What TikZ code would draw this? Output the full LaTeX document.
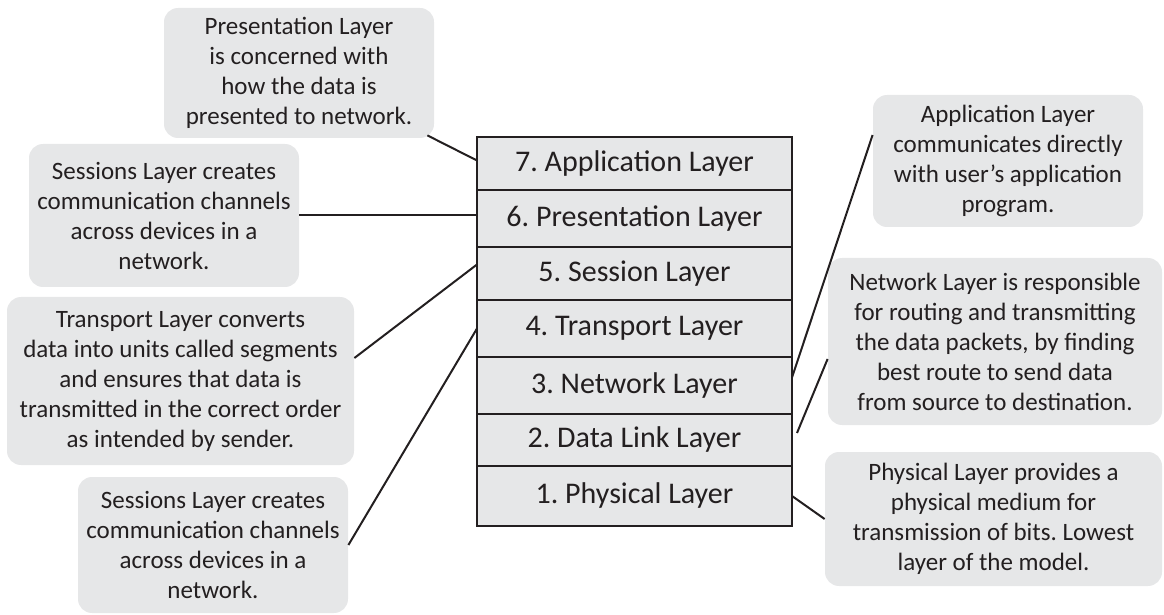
\documentclass[tikz,border=0pt]{standalone}
\usepackage{fontspec}
\setmainfont{Carlito}
\usetikzlibrary{positioning}

\definecolor{boxgray}{HTML}{E6E7E8}
\definecolor{inkgray}{HTML}{231F20}

\tikzset{
  layer/.style={draw=inkgray, line width=1pt, fill=boxgray, minimum width=157.5pt,
    inner sep=0pt, outer sep=0pt, font=\fontsize{15}{18}\selectfont, text=inkgray},
  callout/.style={fill=boxgray, rounded corners=7pt, align=center, inner sep=0pt,
    font=\fontsize{12.5}{15}\selectfont, text=inkgray},
  link/.style={draw=inkgray, line width=1pt}
}

\begin{document}
\frenchspacing
\begin{tikzpicture}[x=0.5pt, y=-0.5pt]
\useasboundingbox (0,0) rectangle (1164,615);

% the stack of layers
\node[layer, minimum height=26.5pt, anchor=north] (l7) at (634.5,137) {7. Application Layer};
\node[layer, minimum height=28.5pt, below=0pt of l7] (l6) {6. Presentation Layer};
\node[layer, minimum height=26.5pt, below=0pt of l6] (l5) {5. Session Layer};
\node[layer, minimum height=28.5pt, below=0pt of l5] (l4) {4. Transport Layer};
\node[layer, minimum height=28.5pt, below=0pt of l4] (l3) {3. Network Layer};
\node[layer, minimum height=26pt, below=0pt of l3] (l2) {2. Data Link Layer};
\node[layer, minimum height=30pt, below=0pt of l2] (l1) {1. Physical Layer};

% left notes
\node[callout, minimum width=135pt, minimum height=65pt] (c1) at (299,73)
  {Presentation Layer\\ is concerned with\\ how the data is\\ presented to network.};
\node[callout, minimum width=135pt, minimum height=71.5pt] (c2) at (164,215.5)
  {Sessions Layer creates\\ communication channels\\ across devices in a\\ network.};
\node[callout, minimum width=173.5pt, minimum height=84pt] (c3) at (180.5,381)
  {Transport Layer converts\\ data into units called segments\\ and ensures that data is\\ transmitted in the correct order\\ as intended by sender.};
\node[callout, minimum width=135pt, minimum height=68pt] (c4) at (213,545)
  {Sessions Layer creates\\ communication channels\\ across devices in a\\ network.};

% right notes
\node[callout, minimum width=135pt, minimum height=66pt] (c5) at (1008,161)
  {Application Layer\\ communicates directly\\ with user’s application\\ program.};
\node[callout, minimum width=167pt, minimum height=83.5pt] (c6) at (995,341.5)
  {Network Layer is responsible\\ for routing and transmitting\\ the data packets, by finding\\ best route to send data\\ from source to destination.};
\node[callout, minimum width=168.5pt, minimum height=67pt] (c7) at (993.5,519)
  {Physical Layer provides a\\ physical medium for\\ transmission of bits. Lowest\\ layer of the model.};

% connectors
\draw[link] ([xshift=-3.5pt,yshift=1.5pt]c1.south east) -- ([yshift=1.5pt]l7.west);
\draw[link] (c2.east) -- (c2.east -| l6.west);
\draw[link] ([yshift=11.5pt]c3.east) -- ([yshift=4.5pt]l5.west);
\draw[link] (c4.east) -- (l4.west);
\draw[link] ([yshift=13pt]c5.west) -- ([yshift=4pt]l3.east);
\draw[link] ([yshift=-8.75pt]c6.west) -- ([xshift=2.5pt,yshift=3.5pt]l2.east);
\draw[link] (l1.east) -- (c7.west);
\end{tikzpicture}
\end{document}
